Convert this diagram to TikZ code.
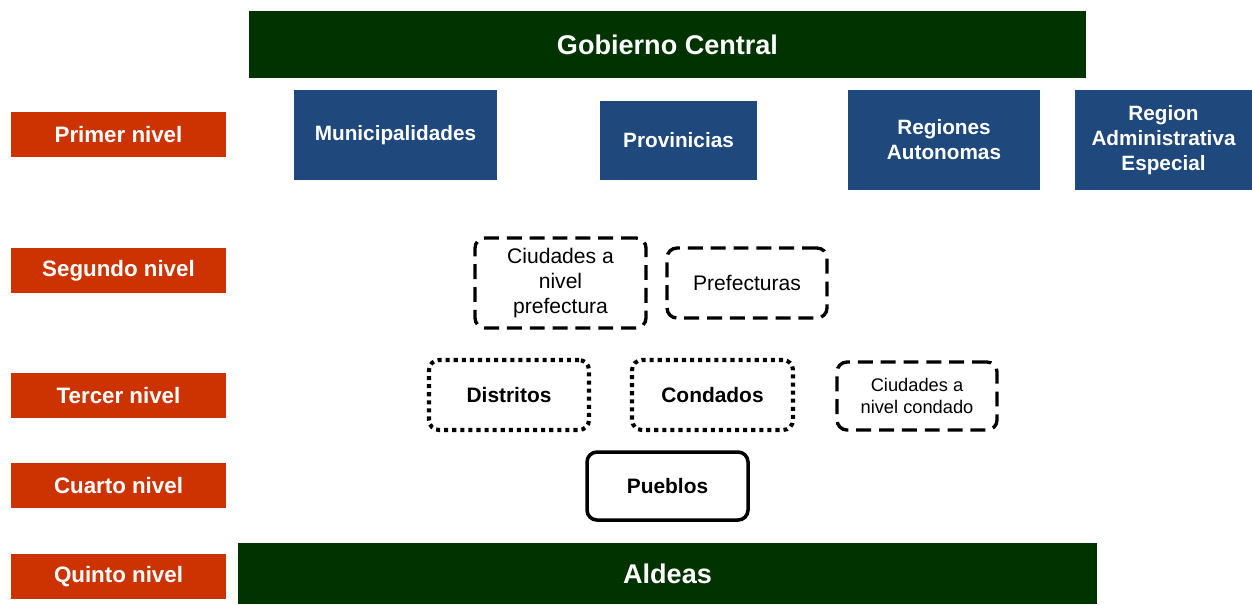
\documentclass[tikz,border=0pt]{standalone}
\usepackage{fontspec}
\setmainfont{Liberation Sans}
\usepackage{tikz}
\usetikzlibrary{backgrounds}
\definecolor{dgreen}{RGB}{0,51,0}
\definecolor{dblue}{RGB}{31,73,125}
\definecolor{dred}{RGB}{204,51,0}
\tikzstyle{nivel}=[rectangle, fill=dred, text=white, font=\bfseries\fontsize{12.7}{14}\selectfont, minimum width=4.3cm, minimum height=0.9cm, inner sep=0pt]
\tikzstyle{banda}=[rectangle, fill=dgreen, text=white, font=\bfseries\fontsize{15.4}{18}\selectfont, inner sep=0pt]
\tikzstyle{unidad}=[rectangle, fill=dblue, text=white, font=\bfseries\fontsize{11.8}{14.2}\selectfont, align=center, inner sep=0pt]
\tikzstyle{rayas}=[rectangle, rounded corners=0.2cm, draw=black, line width=1.9pt, dash pattern=on 8.5pt off 4.5pt, font=\fontsize{12}{14.2}\selectfont, align=center, inner sep=0pt]
\tikzstyle{puntos}=[rectangle, rounded corners=0.2cm, draw=black, line width=2.3pt, dash pattern=on 2.3pt off 2.3pt, font=\bfseries\fontsize{11.9}{14}\selectfont, inner sep=0pt]
\tikzstyle{solido}=[rectangle, rounded corners=0.2cm, draw=black, line width=2pt, font=\bfseries\fontsize{11.9}{14}\selectfont, inner sep=0pt]

\begin{document}
\begin{tikzpicture}
            \useasboundingbox (0, 0) rectangle (25.04, -12.08);
            % bandas
            \node [style=banda, minimum width=16.74cm, minimum height=1.34cm] (gob) at (13.35, -0.89) {Gobierno Central};
            \node [style=banda, minimum width=17.18cm, minimum height=1.22cm] (aldeas) at (13.35, -11.47) {Aldeas};
            % niveles
            \node [style=nivel] (n1) at (2.37, -2.69) {Primer nivel};
            \node [style=nivel] (n2) at (2.37, -5.41) {Segundo nivel};
            \node [style=nivel] (n3) at (2.37, -7.91) {Tercer nivel};
            \node [style=nivel] (n4) at (2.37, -9.71) {Cuarto nivel};
            \node [style=nivel] (n5) at (2.37, -11.53) {Quinto nivel};
            % primer nivel
            \node [style=unidad, minimum width=4.06cm, minimum height=1.8cm] (muni) at (7.91, -2.70) {Municipalidades};
            \node [style=unidad, minimum width=3.14cm, minimum height=1.58cm] (prov) at (13.57, -2.81) {Provinicias};
            \node [style=unidad, minimum width=3.84cm, minimum height=2.0cm] (regaut) at (18.88, -2.80) {Regiones\\Autonomas};
            \node [style=unidad, minimum width=3.54cm, minimum height=2.0cm] (regadm) at (23.27, -2.80) {Region\\Administrativa\\Especial};
            % segundo nivel
            \node [style=rayas, minimum width=3.42cm, minimum height=1.8cm] (ciupref) at (11.21, -5.66) {Ciudades a\\nivel\\prefectura};
            \node [style=rayas, minimum width=3.2cm, minimum height=1.4cm] (pref) at (14.94, -5.66) {Prefecturas};
            % tercer nivel
            \node [style=puntos, minimum width=3.2cm, minimum height=1.4cm] (dist) at (10.18, -7.90) {Distritos};
            \node [style=puntos, minimum width=3.22cm, minimum height=1.4cm] (cond) at (14.25, -7.90) {Condados};
            \node [style=rayas, minimum width=3.2cm, minimum height=1.36cm, font=\fontsize{10.4}{12.5}\selectfont] (ciucond) at (18.34, -7.92) {Ciudades a\\nivel condado};
            % cuarto nivel
            \node [style=solido, minimum width=3.22cm, minimum height=1.36cm] (pueb) at (13.35, -9.72) {Pueblos};
        \end{tikzpicture}
\end{document}
